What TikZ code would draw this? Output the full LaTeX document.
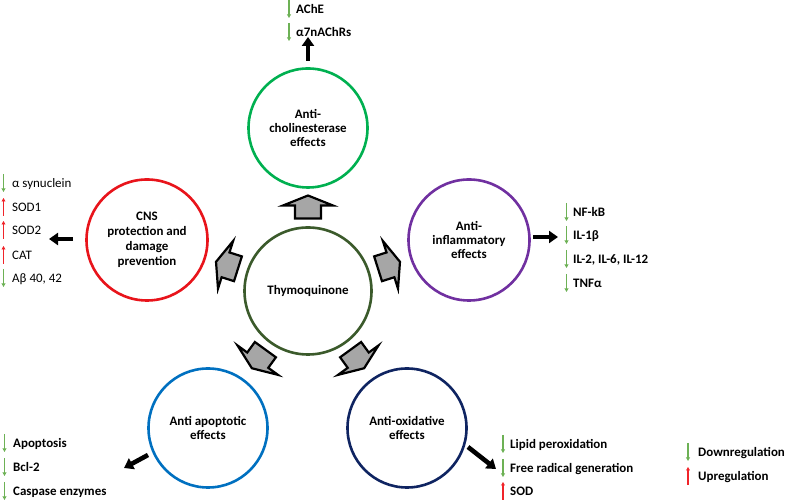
\documentclass[tikz,border=0pt]{standalone}
\usepackage{fontspec}
\setmainfont{Carlito}
\usetikzlibrary{arrows.meta,calc}
\definecolor{cgreen}{HTML}{00B050}
\definecolor{cpurple}{HTML}{7030A0}
\definecolor{cred}{HTML}{E8141B}
\definecolor{cblue}{HTML}{0070C0}
\definecolor{cnavy}{HTML}{0F2461}
\definecolor{colive}{HTML}{3B5A2B}
\definecolor{agray}{HTML}{A6A6A6}
\definecolor{dgreen}{HTML}{6DB155}
\definecolor{ured}{HTML}{F0242A}
\begin{document}
\begin{tikzpicture}[x=1bp,y=1bp,
  circ/.style={circle, draw, line width=2.6bp, minimum size=#1, inner sep=0pt, align=center,
    font=\bfseries\fontsize{13}{14.5}\selectfont},
  itemtxt/.style={anchor=base west, inner sep=0pt, font=\bfseries\fontsize{13}{15}\selectfont},
  itemreg/.style={anchor=base west, inner sep=0pt, font=\fontsize{13}{15}\selectfont},
  dnarrow/.style={draw=dgreen, line width=1.1bp, -{Triangle[length=3.5bp,width=3.8bp]}},
  uparrow/.style={draw=ured, line width=1.1bp, -{Triangle[length=3.5bp,width=3.8bp]}},
  bigarrow/.style={draw=black, line width=4.6bp, -{Triangle[length=9bp,width=12bp]}},
  blockarrow/.pic={\draw[fill=agray, line width=2.2bp, line join=miter]
     (-11.5,-13) -- (1.5,-13) -- (1.5,-25) -- (11.5,0) -- (1.5,25) -- (1.5,13) -- (-11.5,13) -- cycle;}
]
\useasboundingbox (0,0) rectangle (787,504);

% circles
\node[circ=127bp, draw=colive] (thy) at (308,213) {Thymoquinone};
\node[circ=119bp, draw=cgreen] (ache) at (308,376) {Anti-\\cholinesterase\\effects};
\node[circ=121bp, draw=cpurple] (infl) at (469,264) {Anti-\\inflammatory\\effects};
\node[circ=121bp, draw=cred, font=\bfseries\fontsize{13}{15}\selectfont] (cns) at (147,264) {CNS\\protection and\\damage\\prevention};
\node[circ=119bp, draw=cblue] (apop) at (208,76) {Anti apoptotic\\effects};
\node[circ=119bp, draw=cnavy] (oxid) at (407,76) {Anti-oxidative\\effects};

% block arrows from Thymoquinone
\pic[rotate=90] (ba1) at ($(thy)+(90:84)$) {blockarrow};
\pic[rotate=17.6] (ba2) at ($(thy)+(17.6:85)$) {blockarrow};
\pic[rotate=162.4] (ba3) at ($(thy)+(162.4:85)$) {blockarrow};
\pic[rotate=-126] (ba4) at ($(thy)+(-126:84)$) {blockarrow};
\pic[rotate=-54] (ba5) at ($(thy)+(-54:84)$) {blockarrow};

% black arrows
\coordinate (t1) at (308,443); \coordinate (t2) at (308,467);
\coordinate (l1) at (73,265);  \coordinate (l2) at (49,265);
\coordinate (r1) at (533,267); \coordinate (r2) at (558,267);
\coordinate (bl1) at (148,49); \coordinate (bl2) at (124,36);
\coordinate (br1) at (468,57); \coordinate (br2) at (496,35);
\draw[bigarrow] (t1) -- (t2);
\draw[bigarrow] (l1) -- (l2);
\draw[bigarrow] (r1) -- (r2);
\draw[bigarrow] (bl1) -- (bl2);
\draw[bigarrow] (br1) -- (br2);

% top list
\node[itemtxt] (a1) at (296,490.5) {AChE};
\node[itemtxt] (a2) at (296,467.5) {α7nAChRs};
\foreach \n in {a1,a2}
  \draw[dnarrow] ([shift={(-7,13.5)}]\n.base west) -- ([shift={(-7,-4.5)}]\n.base west);

% left list
\node[itemreg] (c1) at (12,316.5) {α synuclein};
\node[itemreg] (c2) at (12,292.5) {SOD1};
\node[itemreg] (c3) at (12,269.5) {SOD2};
\node[itemreg] (c4) at (12,244.5) {CAT};
\node[itemreg] (c5) at (12,221.5) {Aβ 40, 42};
\foreach \n in {c1,c5}
  \draw[dnarrow] ([shift={(-8.5,13.5)}]\n.base west) -- ([shift={(-8.5,-4.5)}]\n.base west);
\foreach \n in {c2,c3,c4}
  \draw[uparrow] ([shift={(-8.5,-4.5)}]\n.base west) -- ([shift={(-8.5,13.5)}]\n.base west);

% right list
\node[itemtxt] (i1) at (573,287.5) {NF-kB};
\node[itemtxt] (i2) at (573,264.5) {IL-1β};
\node[itemtxt] (i3) at (573,240.5) {IL-2, IL-6, IL-12};
\node[itemtxt] (i4) at (573,216.5) {TNFα};
\foreach \n in {i1,i2,i3,i4}
  \draw[dnarrow] ([shift={(-6.5,13.5)}]\n.base west) -- ([shift={(-6.5,-4.5)}]\n.base west);

% bottom-left list
\node[itemtxt] (p1) at (13,56.5) {Apoptosis};
\node[itemtxt] (p2) at (13,32.5) {Bcl-2};
\node[itemtxt] (p3) at (13,8.5) {Caspase enzymes};
\foreach \n in {p1,p2,p3}
  \draw[dnarrow] ([shift={(-8.5,13.5)}]\n.base west) -- ([shift={(-8.5,-4.5)}]\n.base west);

% bottom-right list
\node[itemtxt] (o1) at (510,55.5) {Lipid peroxidation};
\node[itemtxt] (o2) at (510,31.5) {Free radical generation};
\node[itemtxt] (o3) at (510,8.5) {SOD};
\foreach \n in {o1,o2}
  \draw[dnarrow] ([shift={(-7,13.5)}]\n.base west) -- ([shift={(-7,-4.5)}]\n.base west);
\draw[uparrow] ([shift={(-7,-4.5)}]o3.base west) -- ([shift={(-7,13.5)}]o3.base west);

% legend
\node[itemtxt] (g1) at (698,47.5) {Downregulation};
\node[itemtxt] (g2) at (698,23.5) {Upregulation};
\draw[dnarrow] ([shift={(-10,13.5)}]g1.base west) -- ([shift={(-10,-4.5)}]g1.base west);
\draw[uparrow] ([shift={(-10,-4.5)}]g2.base west) -- ([shift={(-10,13.5)}]g2.base west);
\end{tikzpicture}
\end{document}
